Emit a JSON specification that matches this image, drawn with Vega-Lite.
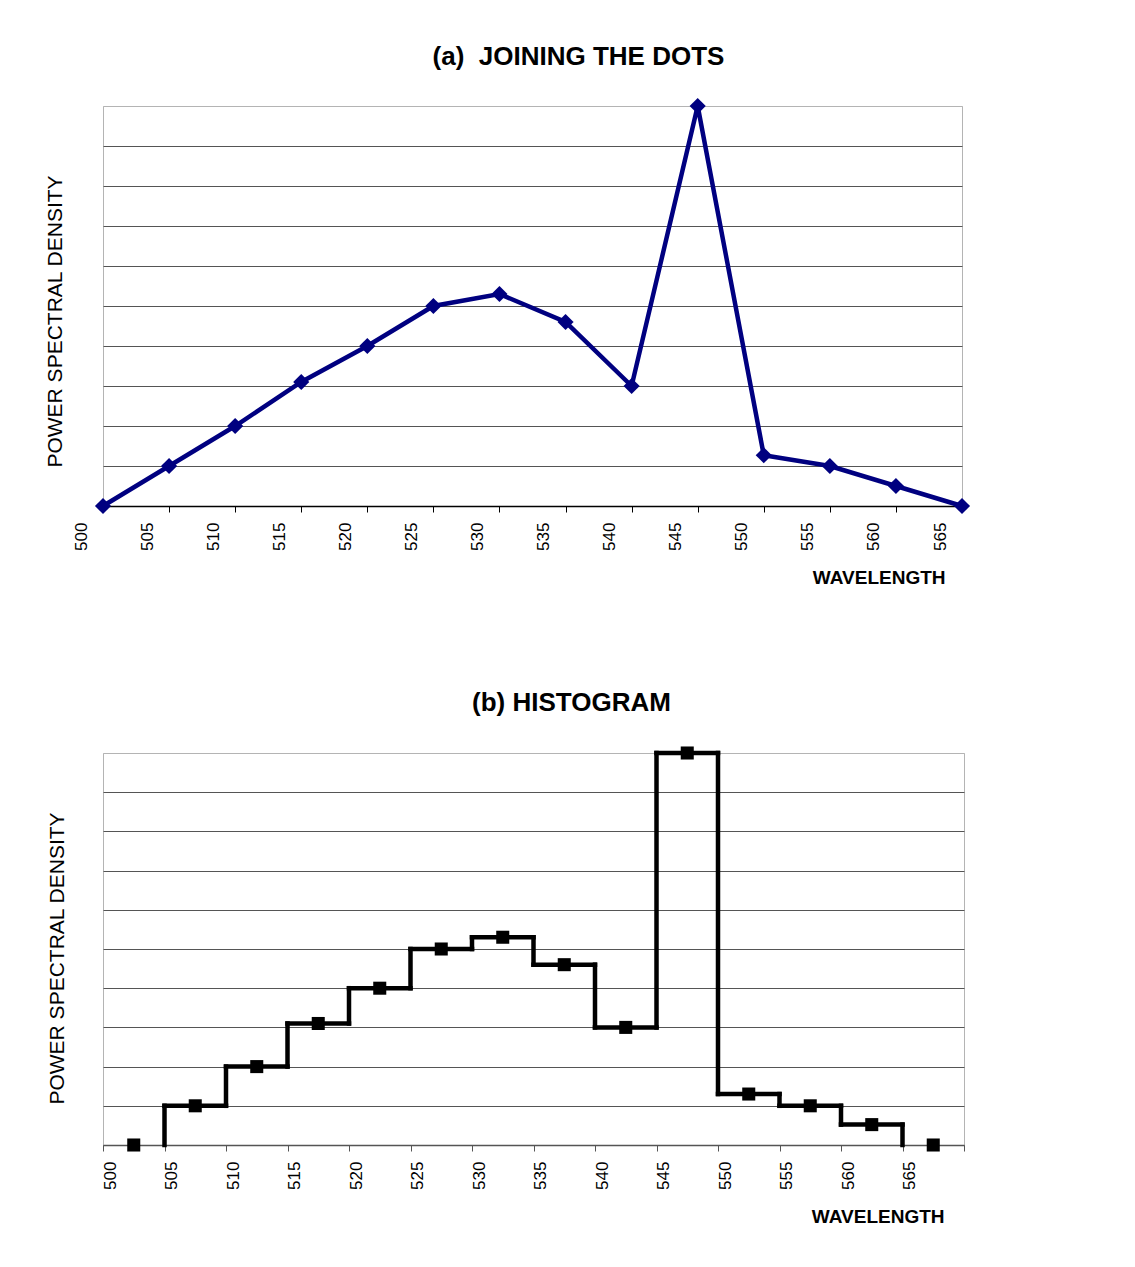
{
  "$schema": "https://vega.github.io/schema/vega-lite/v6.json",
  "padding": {"left": 43, "top": 43, "right": 5, "bottom": 5},
  "background": "white",
  "spacing": 101,
  "config": {
    "view": {"stroke": "#b4b4b4", "strokeWidth": 1},
    "font": "Liberation Sans",
    "axis": {"labelFont": "Liberation Sans", "titleFont": "Liberation Sans", "labelColor": "black", "titleColor": "black"},
    "title": {"font": "Liberation Sans", "fontSize": 26, "fontWeight": "bold", "color": "black"}
  },
  "vconcat": [
    {
      "width": 859,
      "height": 400,
      "title": {"text": "(a) \u00a0JOINING THE DOTS", "dx": 46, "offset": 27},
      "data": {"values": [
        {"wavelength": 500, "psd": 0},
        {"wavelength": 505, "psd": 1},
        {"wavelength": 510, "psd": 2},
        {"wavelength": 515, "psd": 3.1},
        {"wavelength": 520, "psd": 4},
        {"wavelength": 525, "psd": 5},
        {"wavelength": 530, "psd": 5.3},
        {"wavelength": 535, "psd": 4.6},
        {"wavelength": 540, "psd": 3},
        {"wavelength": 545, "psd": 10},
        {"wavelength": 550, "psd": 1.27},
        {"wavelength": 555, "psd": 1},
        {"wavelength": 560, "psd": 0.5},
        {"wavelength": 565, "psd": 0}
      ]},
      "encoding": {
        "x": {
          "field": "wavelength", "type": "quantitative",
          "scale": {"domain": [500, 565], "nice": false, "zero": false},
          "axis": {
            "title": "WAVELENGTH", "titleFontSize": 19, "titleFontWeight": "bold",
            "titleAlign": "right", "titleAnchor": "end", "titleX": 842, "titleY": 62,
            "values": [500, 505, 510, 515, 520, 525, 530, 535, 540, 545, 550, 555, 560, 565],
            "labelAngle": 270, "labelAlign": "right", "labelBaseline": "middle",
            "labelFontSize": 17, "labelOffset": -22, "labelPadding": 10,
            "labelOverlap": false, "labelFlush": false, "labelBound": false,
            "tickSize": 6, "tickColor": "black", "domainColor": "black", "domainWidth": 1.5, "grid": false
          }
        },
        "y": {
          "field": "psd", "type": "quantitative",
          "scale": {"domain": [0, 10], "nice": false},
          "axis": {
            "title": "POWER SPECTRAL DENSITY", "titleFontSize": 21, "titleFontWeight": "normal",
            "titlePadding": 38, "titleY": 215,
            "labels": false, "ticks": false, "domain": false,
            "values": [0, 1, 2, 3, 4, 5, 6, 7, 8, 9, 10],
            "gridColor": {"condition": {"test": "datum.value == 10", "value": "#b4b4b4"}, "value": "#555555"},
            "gridWidth": 1
          }
        }
      },
      "layer": [
        {"mark": {"type": "line", "color": "#000080", "strokeWidth": 4.5}},
        {"mark": {"type": "point", "shape": "diamond", "filled": true, "size": 260, "color": "#000080", "opacity": 1}}
      ]
    },
    {
      "width": 861,
      "height": 392,
      "title": {"text": "(b) HISTOGRAM", "dx": 38, "offset": 30},
      "data": {"values": [
        {"lo": 500, "hi": 505, "mid": 502.5, "psd": 0},
        {"lo": 505, "hi": 510, "mid": 507.5, "psd": 1},
        {"lo": 510, "hi": 515, "mid": 512.5, "psd": 2},
        {"lo": 515, "hi": 520, "mid": 517.5, "psd": 3.1},
        {"lo": 520, "hi": 525, "mid": 522.5, "psd": 4},
        {"lo": 525, "hi": 530, "mid": 527.5, "psd": 5},
        {"lo": 530, "hi": 535, "mid": 532.5, "psd": 5.3},
        {"lo": 535, "hi": 540, "mid": 537.5, "psd": 4.6},
        {"lo": 540, "hi": 545, "mid": 542.5, "psd": 3},
        {"lo": 545, "hi": 550, "mid": 547.5, "psd": 10},
        {"lo": 550, "hi": 555, "mid": 552.5, "psd": 1.3},
        {"lo": 555, "hi": 560, "mid": 557.5, "psd": 1},
        {"lo": 560, "hi": 565, "mid": 562.5, "psd": 0.52},
        {"lo": 565, "hi": 570, "mid": 567.5, "psd": 0}
      ]},
      "layer": [
        {
          "transform": [{"filter": "datum.psd > 0"}],
          "mark": {"type": "rule", "color": "black", "strokeWidth": 4.5, "strokeCap": "square"},
          "encoding": {
            "x": {
              "field": "lo", "type": "quantitative",
              "scale": {"domain": [500, 570], "nice": false, "zero": false},
              "axis": {
                "title": "WAVELENGTH", "titleFontSize": 19, "titleFontWeight": "bold",
                "titleAlign": "right", "titleAnchor": "end", "titleX": 841, "titleY": 62,
                "values": [500, 505, 510, 515, 520, 525, 530, 535, 540, 545, 550, 555, 560, 565, 570],
                "labelExpr": "datum.value == 570 ? '' : datum.label",
                "labelAngle": 270, "labelAlign": "right", "labelBaseline": "middle",
                "labelFontSize": 17, "labelOffset": 7, "labelPadding": 10,
                "labelOverlap": false, "labelFlush": false, "labelBound": false,
                "tickSize": 6, "tickColor": "#555555", "domainColor": "#555555", "domainWidth": 1.5, "grid": false
              }
            },
            "x2": {"field": "hi"},
            "y": {
              "field": "psd", "type": "quantitative",
              "scale": {"domain": [0, 10], "nice": false},
              "axis": {
                "title": "POWER SPECTRAL DENSITY", "titleFontSize": 21, "titleFontWeight": "normal",
                "titlePadding": 36, "titleY": 205,
                "labels": false, "ticks": false, "domain": false,
                "values": [0, 1, 2, 3, 4, 5, 6, 7, 8, 9, 10],
                "gridColor": {"condition": {"test": "datum.value == 10", "value": "#b4b4b4"}, "value": "#555555"},
                "gridWidth": 1
              }
            }
          }
        },
        {
          "transform": [
            {"window": [{"op": "lag", "field": "psd", "as": "prev"}], "sort": [{"field": "lo", "order": "ascending"}]},
            {"filter": "isValid(datum.prev)"}
          ],
          "mark": {"type": "rule", "color": "black", "strokeWidth": 4.5, "strokeCap": "square"},
          "encoding": {
            "x": {"field": "lo", "type": "quantitative"},
            "y": {
              "field": "psd", "type": "quantitative",
              "axis": {
                "title": "POWER SPECTRAL DENSITY", "titleFontSize": 21, "titleFontWeight": "normal",
                "titlePadding": 36, "titleY": 205,
                "labels": false, "ticks": false, "domain": false,
                "values": [0, 1, 2, 3, 4, 5, 6, 7, 8, 9, 10],
                "gridColor": {"condition": {"test": "datum.value == 10", "value": "#b4b4b4"}, "value": "#555555"},
                "gridWidth": 1
              }
            },
            "y2": {"field": "prev"}
          }
        },
        {
          "mark": {"type": "point", "shape": "square", "filled": true, "size": 170, "color": "black", "opacity": 1},
          "encoding": {
            "x": {"field": "mid", "type": "quantitative"},
            "y": {
              "field": "psd", "type": "quantitative",
              "axis": {
                "title": "POWER SPECTRAL DENSITY", "titleFontSize": 21, "titleFontWeight": "normal",
                "titlePadding": 36, "titleY": 205,
                "labels": false, "ticks": false, "domain": false,
                "values": [0, 1, 2, 3, 4, 5, 6, 7, 8, 9, 10],
                "gridColor": {"condition": {"test": "datum.value == 10", "value": "#b4b4b4"}, "value": "#555555"},
                "gridWidth": 1
              }
            }
          }
        }
      ]
    }
  ]
}
